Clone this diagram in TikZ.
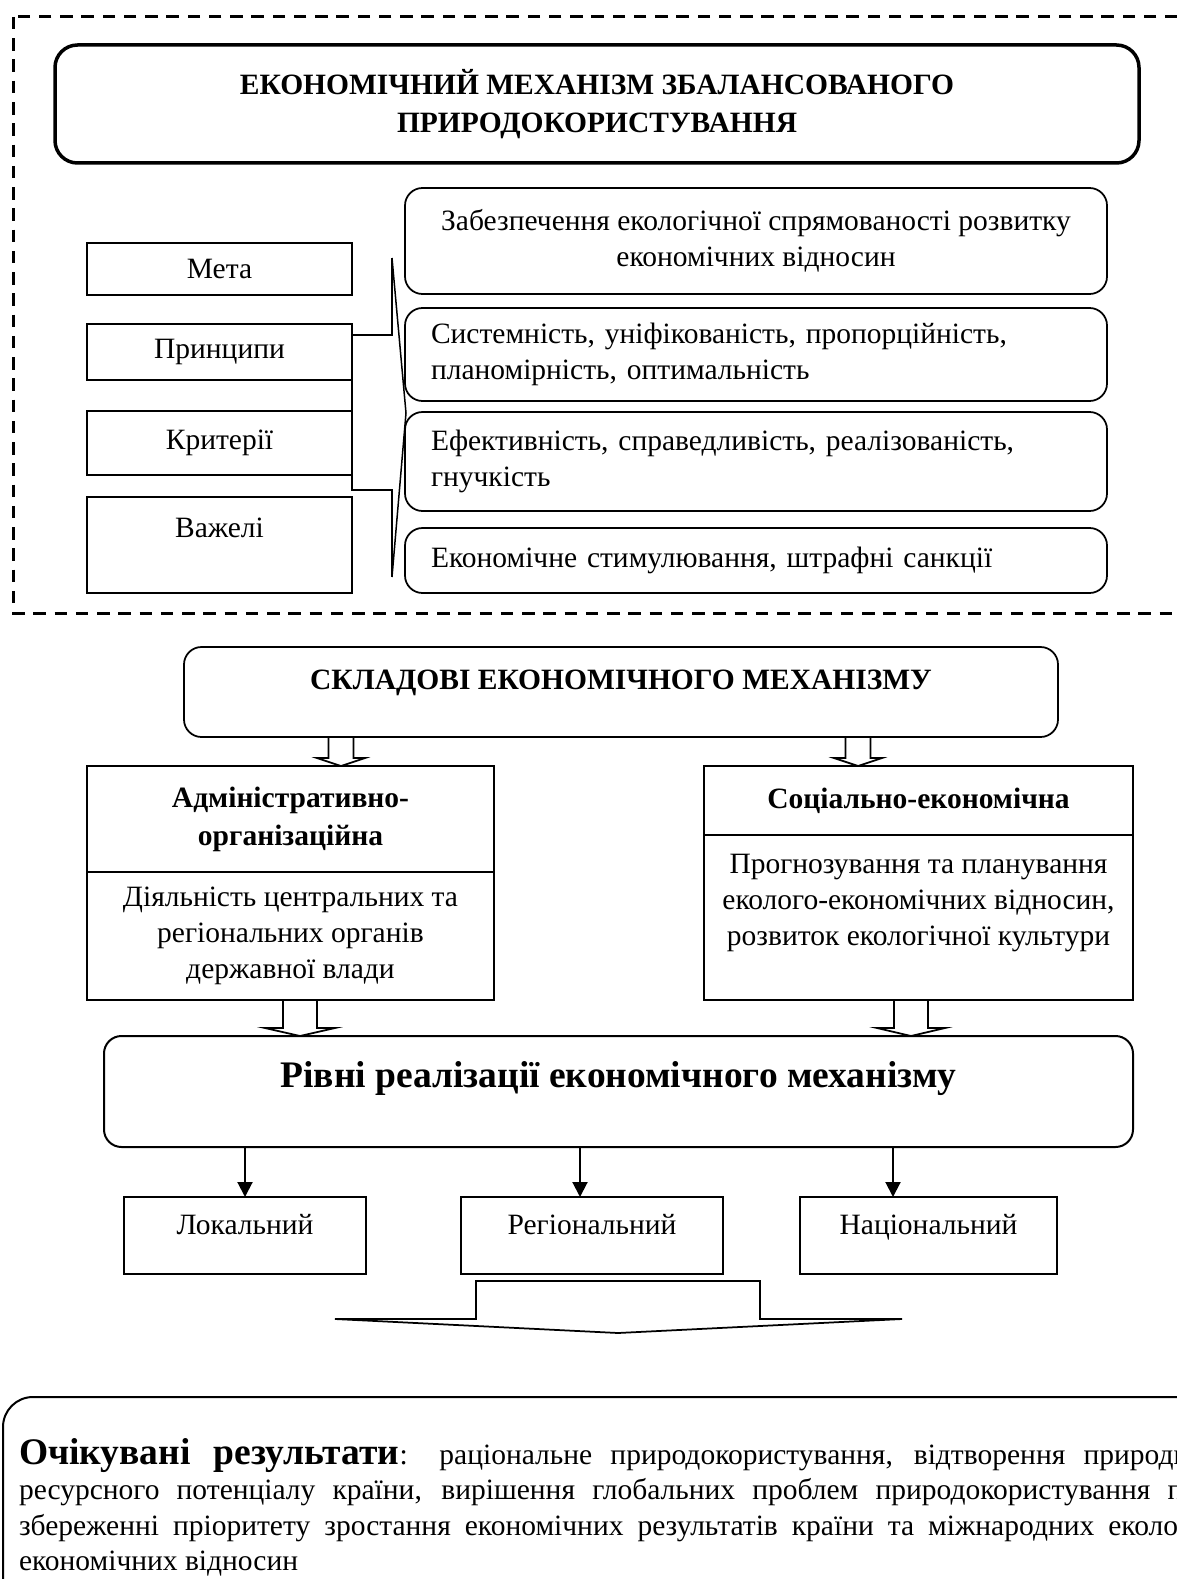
\documentclass[tikz,border=0pt]{standalone}
\usepackage{fontspec}
\setmainfont{Liberation Serif}
\usetikzlibrary{arrows.meta}

\newdimen\pxu \pxu=0.4pt
% open block arrow: start, end, half shaft, half head
\newcommand{\blockarrow}[4]{%
  \draw[hollow] ([xshift=-#3]#1) -- ([xshift=-#3,yshift=8\pxu]#2) -- ([xshift=-#4,yshift=8\pxu]#2)
    -- (#2) -- ([xshift=#4,yshift=8\pxu]#2) -- ([xshift=#3,yshift=8\pxu]#2) -- ([xshift=#3]#1);}

\begin{document}
\begin{tikzpicture}[x=0.4pt, y=-0.4pt,
    box/.style={draw, line width=0.7pt, inner sep=0pt, outer sep=0pt, font=\fontsize{11.8}{14.4}\selectfont},
    rbox/.style={box, rounded corners=7pt},
    bold/.style={font=\fontsize{11.8}{15.2}\selectfont\bfseries},
    hollow/.style={line width=0.7pt},
    arr/.style={line width=0.8pt, -{Triangle[length=6pt, width=6pt]}}]
                \useasboundingbox (0,0) rectangle (1177,1579);
                \draw [line width=1.2pt, dash pattern=on 5pt off 3.5pt] (13,17) rectangle (1200,613);

                \node [box, bold, line width=1.4pt, rounded corners=9pt, minimum width=1084\pxu, minimum height=118\pxu, align=center] (title) at (597,104)
                      {ЕКОНОМІЧНИЙ МЕХАНІЗМ ЗБАЛАНСОВАНОГО\\ПРИРОДОКОРИСТУВАННЯ};

                \node [box, minimum width=265\pxu, minimum height=52\pxu] (meta) at (219.5,269) {Мета};
                \node [box, minimum width=265\pxu, minimum height=56\pxu] (prin) at (219.5,352) {Принципи};
                \node [box, minimum width=265\pxu, minimum height=64\pxu] (krit) at (219.5,443) {Критерії};
                \node [box, minimum width=265\pxu, text height=40\pxu, text depth=56\pxu] (vazh) at (219.5,545) {Важелі};

                \node [rbox, minimum width=702\pxu, minimum height=106\pxu, align=center] (metatxt) at (756,241)
                      {Забезпечення екологічної спрямованості розвитку\\економічних відносин};
                \node [rbox, minimum width=702\pxu, minimum height=93\pxu, text width=650\pxu, align=left] (printxt) at (756,354.5)
                      {Системність, уніфікованість, пропорційність,\\планомірність, оптимальність};
                \node [rbox, minimum width=702\pxu, minimum height=99\pxu, text width=650\pxu, align=left] (krittxt) at (756,461.5)
                      {Ефективність, справедливість, реалізованість,\\гнучкість};
                \node [rbox, minimum width=702\pxu, minimum height=65\pxu, text width=650\pxu, align=left] (vazhtxt) at (756,560.5)
                      {Економічне стимулювання, штрафні санкції};

                \coordinate (btop) at (392,258);
                \coordinate (btip) at (406,413);
                \coordinate (bbot) at (392,577);
                \draw [line width=0.6pt] (btop) -- (btip) -- (bbot);
                \draw [line width=0.7pt] (prin.north east) ++(0,11) -| (btop);
                \draw [line width=0.7pt] (prin.south east) -- ++(0,110) -| (bbot);

                \node [rbox, bold, minimum width=874\pxu, text height=42\pxu, text depth=48\pxu] (skl) at (621,692)
                      {СКЛАДОВІ ЕКОНОМІЧНОГО МЕХАНІЗМУ};

                \node [box, bold, minimum width=407\pxu, minimum height=106\pxu, align=center] (adm) at (290.5,819)
                      {Адміністративно-\\організаційна};
                \node [box, minimum width=407\pxu, minimum height=128\pxu, align=center, anchor=north] (admtxt) at (adm.south)
                      {Діяльність центральних та\\регіональних органів\\державної влади};
                \node [box, bold, minimum width=429\pxu, minimum height=69\pxu] (soc) at (918.5,800.5) {Соціально-економічна};
                \node [box, minimum width=429\pxu, minimum height=165\pxu, align=center, anchor=north] (soctxt) at (soc.south)
                      {Прогнозування та планування\\еколого-економічних відносин,\\розвиток екологічної культури\\~};

                \node [rbox, line width=0.8pt, minimum width=1029\pxu, text height=51\pxu, text depth=60\pxu,
                       font=\fontsize{15}{18}\selectfont\bfseries] (rivni) at (618.5,1091.5) {Рівні реалізації економічного механізму};

                \coordinate (a1) at ([xshift=50.5\pxu]adm.north);
                \coordinate (a1s) at (a1 |- skl.south);
                \coordinate (a2) at ([xshift=-60.5\pxu]soc.north);
                \coordinate (a2s) at (a2 |- skl.south);
                \coordinate (a3s) at ([xshift=9.5\pxu]admtxt.south);
                \coordinate (a3) at (a3s |- rivni.north);
                \coordinate (a4s) at ([xshift=-7.5\pxu]soctxt.south);
                \coordinate (a4) at (a4s |- rivni.north);
                \blockarrow{a1s}{a1}{12.5\pxu}{24\pxu}
                \blockarrow{a2s}{a2}{12.5\pxu}{24\pxu}
                \blockarrow{a3s}{a3}{17\pxu}{35\pxu}
                \blockarrow{a4s}{a4}{17\pxu}{34\pxu}

                \node [box, minimum width=242\pxu, text height=37\pxu, text depth=40\pxu] (lok) at (245,1235.5) {Локальний};
                \node [box, minimum width=262\pxu, text height=37\pxu, text depth=40\pxu] (reg) at (592,1235.5) {Регіональний};
                \node [box, minimum width=257\pxu, text height=37\pxu, text depth=40\pxu] (nac) at (928.5,1235.5) {Національний};

                \coordinate (r2) at ([xshift=-12\pxu]reg.north);
                \coordinate (r3) at ([xshift=-35.5\pxu]nac.north);
                \draw [arr] (rivni.south -| lok.north) -- (lok.north);
                \draw [arr] (r2 |- rivni.south) -- (r2);
                \draw [arr] (r3 |- rivni.south) -- (r3);

                \draw [hollow] (335,1319) -- (476,1319) -- (476,1281) -- (760,1281) -- (760,1319) -- (902,1319) -- (618,1333) -- cycle;

                \node [draw, line width=0.8pt, rounded corners=12pt, anchor=north west, inner xsep=16\pxu, inner ysep=41\pxu,
                       text width=1195\pxu, align=justify, font=\fontsize{11.8}{14.2}\selectfont] (res) at (2,1396)
                      {{\fontsize{15}{14.2}\selectfont\bfseries Очікувані результати}: раціональне природокористування, відтворення природно-\linebreak
                       ресурсного потенціалу країни, вирішення глобальних проблем природокористування при \linebreak
                       збереженні пріоритету зростання економічних результатів країни та міжнародних еколого-\linebreak
                       економічних відносин};
            \end{tikzpicture}
\end{document}
